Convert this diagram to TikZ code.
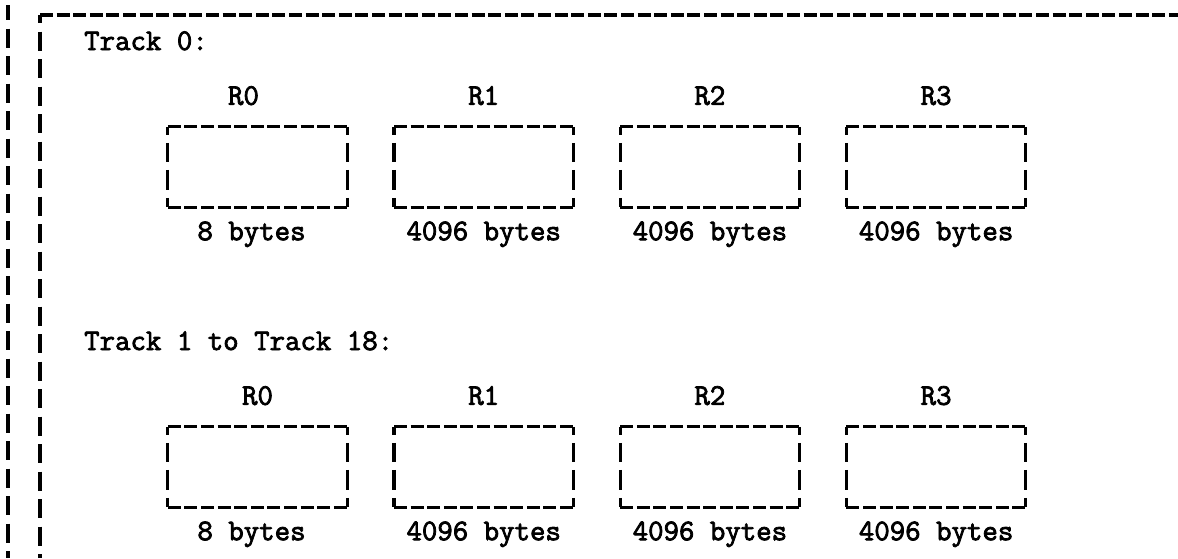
\documentclass[tikz,border=0pt]{standalone}
\usepackage{fontspec}
\usepackage{tikz}
\usetikzlibrary{positioning}
\newfontfamily\typewr[FakeBold=2.6]{Latin Modern Mono}

\tikzset{
  rec/.style={minimum width=179pt, minimum height=80pt, inner sep=0pt},
  hdash/.style={line width=3.2pt, dash pattern=on 13pt off 3.6pt},
  vdash/.style={line width=3.2pt, dash pattern=on 8pt off 8pt on 19pt off 8pt on 20pt off 8pt on 9pt off 10pt},
  framedash/.style={line width=3.6pt, dash pattern=on 19pt off 8.5pt},
  txt/.style={font=\typewr\fontsize{30}{34}\selectfont, inner sep=0pt}
}

\begin{document}
\begin{tikzpicture}[x=1pt,y=1pt]
  \useasboundingbox (0,0) rectangle (1178,-558);
  \coordinate (o1) at (8,-5);
  \coordinate (o2) at (8,-558);
  \coordinate (f1) at (40,-558);
  \coordinate (f2) at (40,-15);
  \coordinate (f3) at (1178,-15);
  \draw[framedash, dash phase=4pt] (o1) -- (o2);
  \draw[framedash, dash phase=11pt] (f2) -- (f1);
  \draw[hdash] (f2) -- (f3);

  \node[txt, anchor=base west] (t0) at (84,-50) {Track 0:};
  \node[txt, anchor=base west] (t1) at (84,-350) {Track 1 to Track 18:};

  \foreach \k/\x/\sz/\lx/\bx in {0/257.5/8/-14pt/-6pt, 1/483.7/4096/0pt/0pt, 2/709.9/4096/0pt/0pt, 3/936.1/4096/0pt/0pt} {
    \node[rec] (a\k) at (\x,-167) {};
    \node[txt, above=22pt of a\k, anchor=base, xshift=\lx] (ra\k) {R\k};
    \node[txt, below=33pt of a\k, anchor=base, xshift=\bx] (sa\k) {\sz\ bytes};
    \draw[hdash] (a\k.north west) -- (a\k.north east);
    \draw[hdash] (a\k.south west) -- (a\k.south east);
    \draw[vdash] (a\k.north west) -- (a\k.south west);
    \draw[vdash] (a\k.north east) -- (a\k.south east);
  }

  \foreach \k/\x/\sz/\bx in {0/257.5/8/-6pt, 1/483.7/4096/0pt, 2/709.9/4096/0pt, 3/936.1/4096/0pt} {
    \node[rec] (b\k) at (\x,-467) {};
    \node[txt, above=22pt of b\k, anchor=base] (rb\k) {R\k};
    \node[txt, below=33pt of b\k, anchor=base, xshift=\bx] (sb\k) {\sz\ bytes};
    \draw[hdash] (b\k.north west) -- (b\k.north east);
    \draw[hdash] (b\k.south west) -- (b\k.south east);
    \draw[vdash] (b\k.north west) -- (b\k.south west);
    \draw[vdash] (b\k.north east) -- (b\k.south east);
  }
\end{tikzpicture}
\end{document}
